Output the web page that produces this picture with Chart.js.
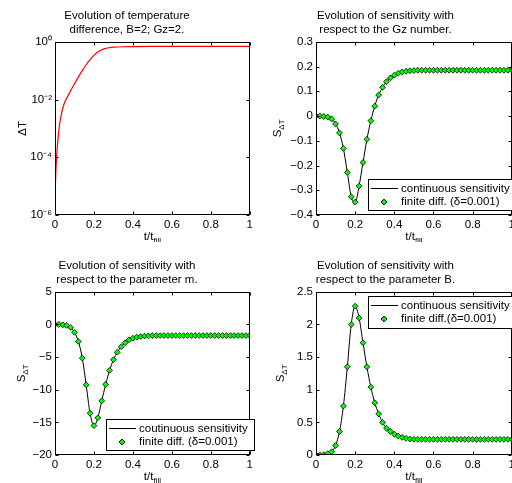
<!DOCTYPE html>
<html>
<head>
<meta charset="utf-8">
<script src="https://cdn.jsdelivr.net/npm/chart.js@4.4.0/dist/chart.umd.min.js"></script>
<style>
  html, body { margin: 0; padding: 0; background: #fff; overflow: hidden; width: 512px; height: 483px; }
  canvas { position: absolute; }
</style>
</head>
<body>
<canvas id="chartT"  width="256" height="242" style="left:0;top:0"></canvas>
<canvas id="chartGz" width="262" height="242" style="left:256px;top:0"></canvas>
<canvas id="chartM"  width="256" height="241" style="left:0;top:242px"></canvas>
<canvas id="chartB"  width="262" height="241" style="left:256px;top:242px"></canvas>
<script>
"use strict";

// temperature difference, B=2; Gz=2
var tTemp = [0, 0.005, 0.01, 0.015, 0.02, 0.03, 0.04, 0.05, 0.06, 0.08, 0.1, 0.12, 0.14, 0.16, 0.18, 0.2, 0.22, 0.24, 0.26, 0.28, 0.3, 0.35, 0.4, 0.5, 0.6, 0.7, 0.8, 0.9, 1];
var dTemp = [4e-6, 4e-5, 1.5e-4, 4e-4, 9e-4, 2.5e-3, 5e-3, 8e-3, 1.1e-2, 2e-2, 3.5e-2, 6e-2, 0.1, 0.16, 0.24, 0.34, 0.44, 0.53, 0.59, 0.63, 0.65, 0.675, 0.685, 0.69, 0.69, 0.69, 0.69, 0.69, 0.69];
var tempTickVals = [1e-6, 1e-4, 1e-2, 1];
var tempTickLabels = ['10\u207B\u2076', '10\u207B\u2074', '10\u207B\u00B2', '10\u2070'];

// sensitivities, sampled every 0.02
var tSens = [0, 0.02, 0.04, 0.06, 0.08, 0.1, 0.12, 0.14, 0.16, 0.18, 0.2, 0.22, 0.24, 0.26, 0.28, 0.3, 0.32, 0.34, 0.36, 0.38, 0.4, 0.42, 0.44, 0.46, 0.48, 0.5,
             0.52, 0.54, 0.56, 0.58, 0.6, 0.62, 0.64, 0.66, 0.68, 0.7, 0.72, 0.74, 0.76, 0.78, 0.8, 0.82, 0.84, 0.86, 0.88, 0.9, 0.92, 0.94, 0.96, 0.98, 1];
var sGz = [0, 0, -0.002, -0.004, -0.012, -0.032, -0.068, -0.131, -0.228, -0.326, -0.348, -0.283, -0.188, -0.094, -0.019, 0.040, 0.085, 0.116, 0.139, 0.154, 0.165, 0.173, 0.178, 0.181, 0.183, 0.184,
           0.185, 0.185, 0.185, 0.185, 0.185, 0.185, 0.185, 0.185, 0.185, 0.185, 0.185, 0.185, 0.185, 0.185, 0.185, 0.185, 0.185, 0.185, 0.185, 0.185, 0.185, 0.185, 0.185, 0.185, 0.185];
var sM = [0, 0, -0.05, -0.15, -0.45, -1.2, -2.6, -5.15, -9.25, -13.6, -15.5, -14.3, -11.7, -9.2, -7.05, -5.4, -4.25, -3.4, -2.8, -2.35, -2.1, -1.95, -1.85, -1.78, -1.74, -1.72,
          -1.7, -1.7, -1.7, -1.7, -1.7, -1.7, -1.7, -1.7, -1.7, -1.7, -1.7, -1.7, -1.7, -1.7, -1.7, -1.7, -1.7, -1.7, -1.7, -1.7, -1.7, -1.7, -1.7, -1.7, -1.7];
var sB = [0, 0, 0.005, 0.02, 0.05, 0.145, 0.36, 0.75, 1.35, 2.0, 2.28, 2.1, 1.72, 1.35, 1.04, 0.8, 0.63, 0.5, 0.41, 0.36, 0.32, 0.29, 0.27, 0.255, 0.245, 0.24,
          0.24, 0.24, 0.24, 0.24, 0.24, 0.24, 0.24, 0.24, 0.24, 0.24, 0.24, 0.24, 0.24, 0.24, 0.24, 0.24, 0.24, 0.24, 0.24, 0.24, 0.24, 0.24, 0.24, 0.24, 0.24];

var xTickStep = 0.2;

var FAMILY = '"Liberation Sans", Arial, Helvetica, sans-serif';
var FS = 11.5;
Chart.defaults.font.family = FAMILY;
Chart.defaults.font.size = FS;
Chart.defaults.color = '#000';

function fmt(v) {
	return String(+v.toFixed(2)).replace('-', '\u2212');
}

function pts(xs, ys) {
	return xs.map(function(x, i) { return { x: x, y: ys[i] }; });
}

// text with a subscript, centred on x
function subText(ctx, base, sub, x, y) {
	ctx.font = FS + 'px ' + FAMILY;
	var w1 = ctx.measureText(base).width;
	ctx.font = '8px ' + FAMILY;
	var w2 = ctx.measureText(sub).width;
	var sx = x - (w1 + w2) / 2;
	ctx.textAlign = 'left';
	ctx.textBaseline = 'middle';
	ctx.font = FS + 'px ' + FAMILY;
	ctx.fillText(base, sx, y);
	ctx.font = '8px ' + FAMILY;
	ctx.fillText(sub, sx + w1, y + 4);
}

// matlab style box, inward ticks and axis labels
var matlabBox = {
	id: 'matlabBox',
	afterDatasetsDraw: function(chart, args, o) {
		var ctx = chart.ctx, a = chart.chartArea;
		var xs = chart.scales.x, ys = chart.scales.y;
		var L = Math.round(a.left) + 0.5, R = Math.round(a.right) - 0.5;
		var T = Math.round(a.top) + 0.5, B = Math.round(a.bottom) - 0.5;
		ctx.save();
		ctx.strokeStyle = '#000';
		ctx.lineWidth = 1;
		ctx.beginPath();
		xs.ticks.forEach(function(t) {
			var p = Math.round(xs.getPixelForValue(t.value)) + 0.5;
			ctx.moveTo(p, B); ctx.lineTo(p, B - 3);
			ctx.moveTo(p, T); ctx.lineTo(p, T + 3);
		});
		ys.ticks.forEach(function(t) {
			var p = Math.round(ys.getPixelForValue(t.value)) + 0.5;
			ctx.moveTo(L, p); ctx.lineTo(L + 3, p);
			ctx.moveTo(R, p); ctx.lineTo(R - 3, p);
		});
		ctx.stroke();
		ctx.strokeRect(L, T, R - L, B - T);
		ctx.fillStyle = '#000';
		subText(ctx, 't/t', 'fill', (a.left + a.right) / 2, a.bottom + 22);
		ctx.translate(o.ylabelX, (a.top + a.bottom) / 2);
		ctx.rotate(-Math.PI / 2);
		subText(ctx, o.ylabel, o.ylabelSub, 0, 0);
		ctx.restore();
	}
};

// legend box drawn inside the axes
var boxLegend = {
	id: 'boxLegend',
	afterDraw: function(chart, args, o) {
		var ctx = chart.ctx;
		ctx.save();
		ctx.fillStyle = '#fff';
		ctx.fillRect(o.left, o.top, o.width, o.height);
		ctx.strokeStyle = '#000';
		ctx.lineWidth = 1;
		ctx.strokeRect(o.left + 0.5, o.top + 0.5, o.width, o.height);
		chart.data.datasets.forEach(function(ds, i) {
			var y = o.top + (i === 0 ? 9.5 : 23);
			if (ds.pointRadius === 0) {
				ctx.strokeStyle = ds.borderColor;
				ctx.lineWidth = ds.borderWidth;
				ctx.beginPath();
				ctx.moveTo(o.left + 3, y);
				ctx.lineTo(o.left + 30, y);
				ctx.stroke();
			} else {
				ctx.fillStyle = ds.pointBackgroundColor;
				ctx.strokeStyle = ds.pointBorderColor;
				Chart.helpers.drawPoint(ctx, { pointStyle: ds.pointStyle, radius: ds.pointRadius, borderWidth: ds.pointBorderWidth, rotation: 0 }, o.left + 16, y);
			}
			ctx.fillStyle = '#000';
			ctx.font = FS + 'px ' + FAMILY;
			ctx.textAlign = 'left';
			ctx.textBaseline = 'middle';
			ctx.fillText(ds.label, o.left + 33, y);
		});
		ctx.restore();
	}
};

function xScale(h) {
	return {
		type: 'linear', min: 0, max: 1,
		grid: { display: false, drawTicks: false }, border: { display: false },
		ticks: { stepSize: xTickStep, padding: 3, maxRotation: 0, autoSkip: false, callback: fmt },
		afterFit: function(s) { s.height = h; }
	};
}

function yScale(w, min, max, step) {
	return {
		type: 'linear', min: min, max: max,
		grid: { display: false, drawTicks: false }, border: { display: false },
		ticks: { stepSize: step, padding: 3, callback: fmt },
		afterFit: function(s) { s.width = w; }
	};
}

function title(lines, top) {
	return { display: true, text: lines, color: '#000', font: { size: FS, weight: 'normal' }, padding: { top: top, bottom: 5.2 } };
}

function sensChart(id, lineLabel, dotLabel, values, yOpts, titleLines, titleTop, ylabelX, legendBox) {
	return new Chart(document.getElementById(id), {
		type: 'line',
		data: {
			datasets: [{
				label: lineLabel,
				data: pts(tSens, values),
				borderColor: '#000',
				borderWidth: 1,
				pointRadius: 0,
				cubicInterpolationMode: 'monotone',
				fill: false,
				order: 1
			}, {
				label: dotLabel,
				data: pts(tSens, values),
				showLine: false,
				pointStyle: 'rectRot',
				pointRadius: 2.9,
				pointBackgroundColor: '#00ff00',
				pointBorderColor: '#000',
				pointBorderWidth: 0.8,
				order: 0
			}]
		},
		options: {
			responsive: false,
			animation: false,
			layout: { autoPadding: false, padding: { left: 0, right: yOpts.pr, top: 0, bottom: 0 } },
			scales: { x: xScale(yOpts.xh), y: yScale(yOpts.yw, yOpts.min, yOpts.max, yOpts.step) },
			plugins: {
				legend: { display: false },
				tooltip: { enabled: false },
				title: title(titleLines, titleTop),
				matlabBox: { ylabel: 'S', ylabelSub: '\u0394T', ylabelX: ylabelX },
				boxLegend: legendBox
			}
		},
		plugins: [matlabBox, boxLegend]
	});
}

// chartT
new Chart(document.getElementById('chartT'), {
	type: 'line',
	data: {
		datasets: [{
			label: '\u0394T',
			data: pts(tTemp, dTemp),
			borderColor: '#ff0000',
			borderWidth: 1.2,
			pointRadius: 0,
			cubicInterpolationMode: 'monotone',
			fill: false
		}]
	},
	options: {
		responsive: false,
		animation: false,
		layout: { autoPadding: false, padding: { left: 0, right: 2, top: 0, bottom: 0 } },
		scales: {
			x: xScale(27),
			y: {
				type: 'logarithmic', min: 1e-6, max: 1,
				grid: { display: false, drawTicks: false }, border: { display: false },
				afterBuildTicks: function(s) { s.ticks = tempTickVals.map(function(v) { return { value: v }; }); },
				ticks: { padding: 3, callback: function(v, i) { return tempTickLabels[i]; } },
				afterFit: function(s) { s.width = 55; }
			}
		},
		plugins: {
			legend: { display: false },
			tooltip: { enabled: false },
			title: title(['Evolution of temperature', 'difference, B=2; Gz=2.'], 9),
			matlabBox: { ylabel: '\u0394T', ylabelSub: '', ylabelX: 23 }
		}
	},
	plugins: [matlabBox]
});

// chartGz
sensChart('chartGz', 'continuous sensitivity', 'finite diff. (\u03B4=0.001)', sGz,
	{ min: -0.4, max: 0.3, step: 0.1, xh: 27, yw: 60, pr: 3 },
	['Evolution of sensitivity with', 'respect to the Gz number.'], 9, 22,
	{ left: 112, top: 179, width: 160, height: 31 });

// chartM
sensChart('chartM', 'coutinuous sensitivity', 'finite diff. (\u03B4=0.001)', sM,
	{ min: -20, max: 5, step: 5, xh: 28, yw: 55, pr: 2 },
	['Evolution of sensitivity with', 'respect to the parameter m.'], 17, 22,
	{ left: 106, top: 177, width: 148, height: 31 });

// chartB
sensChart('chartB', 'continuous sensitivity', 'finite diff.(\u03B4=0.001)', sB,
	{ min: 0, max: 2.5, step: 0.5, xh: 28, yw: 60, pr: 3 },
	['Evolution of sensitivity with', 'respect to the parameter B.'], 17, 25,
	{ left: 112, top: 54, width: 160, height: 32 });
</script>
</body>
</html>
